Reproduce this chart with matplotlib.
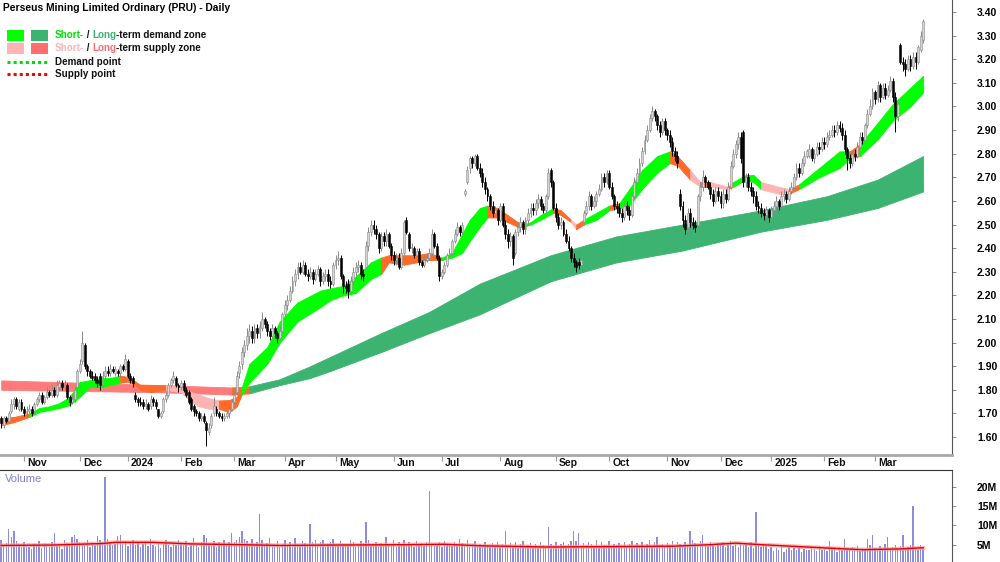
import numpy as np
import pandas as pd
import matplotlib
matplotlib.use('Agg')
import matplotlib.pyplot as plt
import matplotlib.transforms as mtransforms
from matplotlib.lines import Line2D
from matplotlib.patches import Rectangle

plt.rcParams['font.family'] = ['Liberation Sans', 'DejaVu Sans']

# ---- trading days (ASX holidays removed) ----
holidays = ['2023-12-25', '2023-12-26', '2024-01-01', '2024-01-26', '2024-03-29',
            '2024-04-01', '2024-04-25', '2024-06-10', '2024-12-25', '2024-12-26',
            '2025-01-01', '2025-01-27']
dates = pd.bdate_range('2023-10-19', '2025-03-28')
dates = dates[~dates.isin(pd.to_datetime(holidays))]

# ---- daily prices, in cents ----
opens = [168,165,168,167,171,174,176,172,175,172,
         170,171,172,171,174,176,178,175,177,179,
         178,180,178,181,183,181,182,177,175,176,
         181,188,192,199,190,188,186,186,184,186,
         182,186,188,187,189,187,188,187,190,189,192,
         186,185,178,176,175,175,173,174,173,176,
         175,172,169,171,176,178,182,184,185,182,
         181,183,180,179,176,173,171,170,168,169,
         166,162,165,170,172,170,169,168,169,170,
         172,175,179,187,191,196,199,203,205,202,
         206,204,206,210,208,205,203,206,204,202,
         205,212,216,218,222,226,229,232,230,233,
         229,228,230,227,229,231,226,228,229,226,
         225,233,235,236,228,224,225,222,226,230,232,
         233,229,232,241,247,250,248,246,240,245,
         243,246,241,237,235,236,232,238,252,246,
         240,240,237,239,234,233,235,236,238,246,
         241,236,228,230,233,237,238,243,246,249,
         247,263,268,274,278,276,279,274,272,268,
         265,262,258,255,256,252,258,250,246,243,
         245,238,247,249,251,248,252,255,257,256,
         259,261,258,256,262,273,268,257,253,250,
         251,246,243,240,236,234,234,233,251,255,258,
         262,258,260,263,265,270,268,272,266,262,
         258,257,255,253,258,256,254,262,268,272,
         276,281,286,290,295,298,296,292,289,294,
         290,288,285,281,279,263,258,252,249,255,
         251,250,250,262,266,270,268,266,263,260,
         264,262,259,263,261,266,275,280,284,287,
         289,268,270,266,264,262,258,257,255,254,
         256,253,256,258,260,258,262,263,261,264,
         266,270,274,272,276,279,279,282,278,280,283,
         282,285,284,287,288,290,289,292,291,288,
         282,278,276,280,279,283,287,286,292,297,
         300,306,303,309,304,308,305,307,311,304,
         296,326,319,318,316,320,317,321,319,324,328]
highs = [169,169,169,171,176,177,177,176,176,173,
         173,174,173,175,177,179,179,178,181,180,
         182,181,184,184,184,184,183,178,178,181,
         189,193,205,200,191,189,188,187,186,187,
         188,190,190,191,190,190,189,191,191,195,193,
         187,186,179,177,177,176,176,175,178,177,
         176,172,171,177,179,183,185,188,186,183,
         184,184,181,180,177,174,172,171,170,170,
         167,166,170,177,173,171,170,170,171,174,
         176,180,188,192,198,201,206,208,207,208,
         208,209,213,211,209,206,208,207,205,207,
         213,218,220,224,228,231,234,234,235,234,
         231,232,231,231,233,232,230,231,231,228,
         234,237,239,237,229,226,227,228,232,234,235,
         234,231,243,249,252,252,250,247,247,247,
         248,247,242,239,238,238,240,252,253,247,
         242,241,240,240,235,237,237,240,248,247,
         242,237,231,234,238,240,244,248,251,250,
         251,265,275,279,279,280,280,276,274,270,
         266,263,260,258,257,259,259,252,248,247,
         246,248,251,253,252,253,257,259,259,261,
         263,262,259,263,274,274,269,259,255,253,
         252,248,245,241,238,235,236,237,256,260,264,
         263,262,264,267,272,272,273,273,268,263,
         260,259,257,259,260,258,263,270,274,278,
         283,288,292,297,300,299,297,294,295,295,
         291,290,287,283,281,265,260,254,257,257,
         253,252,263,268,273,271,269,268,265,266,
         266,264,265,265,268,277,282,286,289,289,
         290,272,272,268,266,264,260,259,257,258,
         257,258,260,262,261,264,265,264,266,268,
         272,276,276,278,281,282,284,283,282,285,285,
         287,287,289,290,292,292,294,294,293,290,
         283,280,281,282,285,289,289,293,299,303,
         308,307,311,310,310,310,309,313,312,306,
         302,327,321,320,322,322,323,323,326,332,337]
lows = [164,164,166,166,170,172,172,171,171,169,
        169,170,169,170,173,175,174,174,176,177,
        177,177,177,180,180,180,176,173,174,175,
        180,187,191,189,186,185,184,183,181,180,
        181,185,186,186,187,186,186,186,188,188,185,
        183,181,175,173,173,172,172,171,172,173,
        172,168,168,170,175,177,181,183,181,179,
        180,179,177,174,171,169,169,167,167,166,
        156,161,164,169,169,168,167,167,168,168,
        171,174,178,185,189,194,197,200,200,200,
        202,202,205,206,203,201,202,202,200,201,
        204,210,214,217,221,224,227,229,229,228,
        226,227,225,226,228,224,225,226,224,223,
        224,231,233,227,221,221,219,220,225,228,230,
        227,226,231,239,245,246,244,238,239,241,
        241,240,235,233,233,231,231,237,246,239,
        238,236,236,233,232,232,234,235,237,240,
        235,226,227,229,232,236,237,242,245,245,
        246,262,267,272,274,275,273,270,266,263,
        260,256,253,253,250,251,249,244,240,241,
        233,237,245,247,246,246,250,253,254,254,
        257,256,255,255,261,266,256,251,248,248,
        245,242,239,234,232,230,231,232,250,254,256,
        256,257,258,262,264,266,267,265,261,256,
        255,253,251,252,254,252,253,261,267,271,
        275,280,285,289,294,294,290,287,288,288,
        286,283,279,277,274,256,249,246,247,249,
        248,247,249,260,264,266,265,261,258,259,
        260,257,257,259,260,265,274,278,282,276,
        266,266,264,262,259,256,255,253,252,253,
        251,252,255,256,256,257,260,259,260,263,
        265,269,270,271,275,278,278,277,276,279,280,
        281,282,283,286,287,287,288,289,286,280,
        273,274,275,277,278,282,284,285,291,296,
        299,301,302,302,303,303,304,306,302,289,
        294,318,315,313,315,315,316,316,318,323,327]
closes = [166,168,167,170,174,176,173,175,172,170,
          171,172,170,174,176,178,175,177,179,178,
          180,178,182,183,181,182,177,175,176,180,
          188,191,200,190,188,186,185,184,183,182,
          186,188,187,189,188,189,187,190,189,193,186,
          184,183,176,175,174,173,174,172,176,175,
          173,169,170,176,178,182,184,186,182,181,
          183,180,178,175,172,171,170,168,169,167,
          163,164,169,173,170,169,168,169,170,172,
          175,178,186,190,196,199,203,205,202,206,
          204,207,210,208,205,203,206,204,202,205,
          212,216,218,222,226,229,232,230,233,229,
          228,230,227,229,231,226,228,229,226,225,
          233,235,236,228,224,223,222,226,230,232,233,
          229,228,241,247,250,248,246,240,245,243,
          246,241,237,235,236,232,238,251,247,240,
          240,237,239,234,233,235,236,238,246,241,
          236,228,230,233,237,238,243,246,249,247,
          250,264,273,278,276,279,274,272,268,265,
          262,258,255,256,252,258,250,246,243,245,
          236,247,249,251,248,252,255,257,256,259,
          261,258,256,262,272,268,257,253,250,251,
          246,243,240,236,234,232,233,235,255,258,262,
          258,260,263,265,270,268,272,266,262,258,
          257,255,253,258,256,254,262,268,272,276,
          281,286,290,295,298,296,292,289,294,290,
          288,285,281,279,276,258,252,248,255,251,
          250,249,262,266,270,268,266,263,260,264,
          262,259,263,261,266,275,280,284,287,278,
          268,270,266,264,262,258,257,255,254,256,
          253,256,258,260,258,262,263,261,264,266,
          270,274,272,276,279,281,282,278,280,283,282,
          285,284,287,288,290,289,292,291,288,282,
          278,276,280,279,283,287,286,292,297,300,
          306,303,309,304,308,305,307,311,304,296,
          301,319,318,316,320,317,321,319,325,330,336]

# ---- daily volume, in 0.1M shares ----
volume = [62,48,55,90,70,85,60,52,45,58,
          50,44,38,52,47,60,41,55,49,43,
          58,80,46,52,39,61,55,48,70,75,
          66,58,52,49,63,45,57,50,72,61,
          58,225,64,55,49,52,73,75,52,60,47,
          55,63,49,58,44,52,60,47,65,50,
          46,58,42,53,61,48,44,57,50,62,
          55,48,60,45,52,67,49,43,58,75,
          68,52,47,60,44,56,49,62,53,58,
          80,57,63,70,85,66,59,48,64,52,
          57,130,61,49,55,68,47,52,60,45,
          53,62,48,58,44,67,51,46,59,55,
          49,105,58,63,47,56,61,44,52,58,
          65,50,47,59,53,48,48,62,57,45,51,
          60,54,110,63,52,48,58,46,55,49,
          70,53,47,61,44,56,50,63,48,57,
          52,45,60,49,55,47,58,190,53,46,
          51,57,44,60,49,53,46,58,50,65,
          55,48,62,45,53,59,47,51,44,56,
          49,43,55,47,58,45,52,85,48,54,
          46,57,42,51,60,44,49,55,47,53,
          45,58,50,43,95,52,47,56,44,51,
          57,46,53,60,85,60,80,49,55,48,58,
          52,47,61,44,56,50,48,59,45,53,
          49,55,43,58,47,52,60,46,54,44,
          58,47,51,63,45,56,70,49,53,47,
          55,48,60,44,57,52,46,58,50,85,
          62,55,48,60,75,53,47,58,51,45,
          54,49,57,43,52,60,46,51,44,55,
          48,53,45,56,42,135,50,44,52,47,
          38,45,33,41,36,48,30,39,44,35,
          42,37,46,31,40,37,35,44,38,33,47,
          36,41,34,60,39,45,32,43,37,65,
          40,35,44,38,46,33,42,39,65,48,
          75,41,36,47,40,52,70,38,44,49,
          42,46,75,39,44,48,150,41,37,50,43]

# volume average line (M), read at a few bars
vol_avg_idx = [0, 20, 40, 45, 60, 75, 95, 110, 130, 160, 175, 190, 215, 240, 265, 280, 290, 300, 315, 330, 340, 355, 364]
vol_avg_val = [4.8, 4.9, 5.3, 5.6, 5.6, 5.2, 5.0, 4.8, 4.9, 5.0, 5.1, 4.7, 4.4, 4.5, 4.6, 5.0, 5.4, 5.0, 4.5, 4.0, 3.7, 3.9, 4.2]

# ---- short-term zone ----
st_idx = [0, 5, 11, 15, 19, 23, 27, 31, 35, 39, 43, 47, 50, 53, 55, 59, 65, 71, 75, 78,
          82, 86, 90, 93, 95, 98, 105, 110, 117, 126, 130, 135, 140, 146, 150, 153, 159, 164, 169, 174,
          178, 182, 185, 189, 192, 196, 200, 204, 206, 209, 213, 218, 221, 225, 227, 230, 235, 240, 244, 248,
          253, 259, 264, 267, 272, 276, 280, 287, 289, 294, 297, 300, 307, 311, 315, 323, 331, 335, 339, 346,
          352, 359, 364]
st_top = [1.68, 1.685, 1.70, 1.723, 1.73, 1.744, 1.77, 1.833, 1.841, 1.85, 1.85, 1.86, 1.855, 1.835, 1.82, 1.82, 1.82, 1.81, 1.79, 1.78,
          1.765, 1.755, 1.757, 1.77, 1.81, 1.91, 1.98, 2.09, 2.17, 2.22, 2.23, 2.24, 2.28, 2.34, 2.36, 2.37, 2.37, 2.37, 2.38, 2.36,
          2.38, 2.46, 2.52, 2.57, 2.58, 2.57, 2.54, 2.51, 2.50, 2.51, 2.54, 2.57, 2.56, 2.52, 2.50, 2.52, 2.55, 2.58, 2.59, 2.65,
          2.73, 2.79, 2.81, 2.79, 2.73, 2.68, 2.68, 2.66, 2.68, 2.71, 2.71, 2.68, 2.66, 2.65, 2.67, 2.74, 2.81, 2.81, 2.84, 2.93,
          3.01, 3.08, 3.13]
st_bot = [1.65, 1.663, 1.685, 1.706, 1.714, 1.723, 1.735, 1.77, 1.812, 1.812, 1.82, 1.83, 1.835, 1.82, 1.80, 1.79, 1.80, 1.79, 1.75, 1.73,
          1.72, 1.72, 1.705, 1.73, 1.78, 1.83, 1.91, 2.00, 2.09, 2.15, 2.18, 2.20, 2.21, 2.27, 2.29, 2.34, 2.33, 2.34, 2.35, 2.35,
          2.36, 2.38, 2.43, 2.49, 2.53, 2.53, 2.51, 2.49, 2.49, 2.50, 2.52, 2.55, 2.54, 2.51, 2.48, 2.50, 2.52, 2.56, 2.57, 2.58,
          2.65, 2.72, 2.76, 2.75, 2.69, 2.66, 2.66, 2.65, 2.66, 2.69, 2.68, 2.65, 2.63, 2.63, 2.65, 2.70, 2.74, 2.78, 2.79, 2.86,
          2.94, 3.00, 3.06]
st_state = 'oogggggggggooooopppppoooggggggggggooooogggggoooogggoopoggoggggoopopogggppogggogggggg'

# ---- long-term zone ----
lt_idx = [0, 63, 91, 98, 110, 122, 130, 150, 169, 189, 217, 243, 269, 300, 326, 346, 364]
lt_top = [1.84, 1.82, 1.81, 1.815, 1.845, 1.90, 1.94, 2.04, 2.13, 2.25, 2.37, 2.45, 2.50, 2.56, 2.62, 2.69, 2.79]
lt_bot = [1.80, 1.79, 1.78, 1.785, 1.82, 1.85, 1.88, 1.96, 2.04, 2.12, 2.26, 2.34, 2.39, 2.47, 2.52, 2.57, 2.64]
lt_state = 'rroggggggggggggg'

zone_colors = {'g': '#00ff00', 'p': '#ffb4b4', 'o': '#ff6a28', 'r': '#ff7a7a', 'G': '#3cb371'}

o = np.array(opens) / 100
h = np.array(highs) / 100
l = np.array(lows) / 100
c = np.array(closes) / 100
v = np.array(volume) / 10
x = np.arange(len(c))

fig = plt.figure(figsize=(10, 5.62), dpi=100)
ax = fig.add_axes([0, 107 / 562, 0.952, 455 / 562])
axv = fig.add_axes([0, 0, 0.952, 92 / 562])


def draw_zone(axis, idx, top, bot, state, long_term=False):
    for k in range(len(idx) - 1):
        s = state[k]
        col = zone_colors['G'] if (long_term and s == 'g') else zone_colors[s]
        axis.fill_between(idx[k:k + 2], bot[k:k + 2], top[k:k + 2],
                          facecolor=col, edgecolor=col, linewidth=0.6, zorder=1)


draw_zone(ax, lt_idx, lt_top, lt_bot, lt_state, long_term=True)
draw_zone(ax, st_idx, st_top, st_bot, st_state)

# candles
up = c >= o
body_lo = np.minimum(o, c)
body_h = np.maximum(np.abs(c - o), 0.004)
ax.vlines(x[up], l[up], h[up], color='#8a8a8a', lw=0.7, zorder=3)
ax.vlines(x[~up], l[~up], h[~up], color='black', lw=0.7, zorder=3)
ax.bar(x[up], body_h[up], bottom=body_lo[up], width=0.75, color='#d4d4d4',
       edgecolor='#8a8a8a', linewidth=0.4, zorder=4)
ax.bar(x[~up], body_h[~up], bottom=body_lo[~up], width=0.75, color='black',
       edgecolor='black', linewidth=0.4, zorder=4)

xmin, xmax = -0.47, 375.4
ax.set_xlim(xmin, xmax)
ax.set_ylim(1.524, 3.451)
for s in ['top', 'left']:
    ax.spines[s].set_visible(False)
ax.spines['bottom'].set_color('#a8a8a8')
ax.spines['bottom'].set_linewidth(2)
ax.spines['right'].set_color('#555555')
ax.spines['right'].set_linewidth(0.8)

ax.yaxis.tick_right()
yt = np.round(np.arange(1.6, 3.41, 0.1), 2)
ax.set_yticks(yt)
ax.set_yticklabels(['%.2f' % t for t in yt])
ax.tick_params(axis='y', length=3, width=0.6, color='#777777', pad=15,
               labelsize=7.5)
for t in ax.get_yticklabels():
    t.set_fontweight('bold')

# month ticks and labels
month_idx = [i for i in range(1, len(dates)) if dates[i].month != dates[i - 1].month]
month_lab = [dates[i].strftime('%Y') if dates[i].month == 1 else dates[i].strftime('%b')
             for i in month_idx]
ax.set_xticks(month_idx)
ax.tick_params(axis='x', length=4, width=0.8, color='#999999', labelbottom=False)
tr = mtransforms.blended_transform_factory(ax.transData, ax.transAxes)
for mi, lab in zip(month_idx, month_lab):
    ax.text(mi + 1.3, -7.5 / 455, lab, transform=tr, ha='left', va='center',
            fontsize=7.5, fontweight='bold', color='#111111')

# volume
axv.bar(x, v, width=0.55, color='#8c8cdc', linewidth=0, zorder=2)
axv.plot(vol_avg_idx, vol_avg_val, color='#ff9a9a', lw=3.0, alpha=0.7, zorder=3)
axv.plot(vol_avg_idx, vol_avg_val, color='#e00000', lw=1.0, zorder=4)
axv.set_xlim(xmin, xmax)
axv.set_ylim(0.5, 24.4)
for s in ['left', 'bottom']:
    axv.spines[s].set_visible(False)
axv.spines['top'].set_color('#333333')
axv.spines['top'].set_linewidth(0.8)
axv.spines['right'].set_color('#555555')
axv.spines['right'].set_linewidth(0.8)
axv.set_xticks([])
axv.yaxis.tick_right()
axv.set_yticks([5, 10, 15, 20])
axv.set_yticklabels(['5M', '10M', '15M', '20M'])
axv.tick_params(axis='y', length=3, width=0.6, color='#777777', pad=15, labelsize=7.5)
for t in axv.get_yticklabels():
    t.set_fontweight('bold')
axv.text(5 / 952, 1 - 9 / 92, 'Volume', transform=axv.transAxes, ha='left', va='center',
         fontsize=8, color='#8080c8')

# ---- title and legend ----
W, H = 1000.0, 562.0
fig.text(3 / W, 1 - 8 / H, 'Perseus Mining Limited Ordinary (PRU) - Daily',
         fontsize=7.4, fontweight='bold', ha='left', va='center')

fig.patches.append(Rectangle((7 / W, 1 - 41 / H), 17 / W, 11 / H, transform=fig.transFigure,
                             facecolor='#00ff00', edgecolor='none'))
fig.patches.append(Rectangle((31 / W, 1 - 41 / H), 17 / W, 11 / H, transform=fig.transFigure,
                             facecolor='#3cb371', edgecolor='none'))
fig.patches.append(Rectangle((7 / W, 1 - 54 / H), 17 / W, 11 / H, transform=fig.transFigure,
                             facecolor='#ffb4b4', edgecolor='none'))
fig.patches.append(Rectangle((31 / W, 1 - 54 / H), 17 / W, 11 / H, transform=fig.transFigure,
                             facecolor='#ff6f6f', edgecolor='none'))
fig.lines.append(Line2D([7 / W, 47 / W], [1 - 62 / H, 1 - 62 / H], transform=fig.transFigure,
                        color='#00dd00', lw=2.2, linestyle=(0, (1, 1))))
fig.lines.append(Line2D([7 / W, 47 / W], [1 - 74 / H, 1 - 74 / H], transform=fig.transFigure,
                        color='#ff0000', lw=2.2, linestyle=(0, (1, 1))))

renderer = fig.canvas.get_renderer()


def multi_text(x0, y0, parts):
    xp = x0
    for txt, col in parts:
        t = fig.text(xp / W, 1 - y0 / H, txt, fontsize=7.1, fontweight='bold', color=col,
                     ha='left', va='center')
        xp += t.get_window_extent(renderer).width


multi_text(55, 35, [('Short-', '#00e000'), (' / ', '#111111'), ('Long', '#3cb371'),
                    ('-term demand zone', '#111111')])
multi_text(55, 48, [('Short-', '#ffb4b4'), (' / ', '#111111'), ('Long', '#ff6f6f'),
                    ('-term supply zone', '#111111')])
multi_text(55, 62, [('Demand point', '#111111')])
multi_text(55, 74, [('Supply point', '#111111')])

fig.savefig('out.png', dpi=100)
